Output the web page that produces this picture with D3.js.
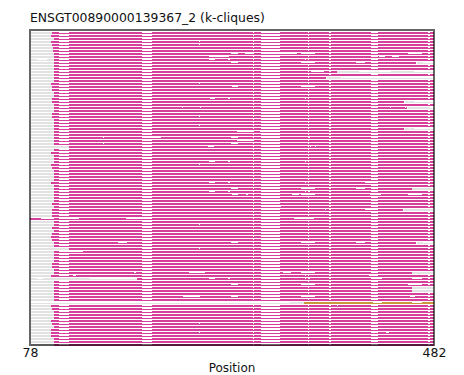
<!DOCTYPE html>
<html><head><meta charset="utf-8">
<script src="https://cdn.jsdelivr.net/npm/d3@7/dist/d3.min.js"></script>
<style>html,body{margin:0;padding:0;background:#fff}svg{display:block}text{font-family:"DejaVu Sans";fill:#111}</style>
</head><body><div id="c"></div>
<script>
const titleText = "ENSGT00890000139367_2 (k-cliques)";
const xLabel = "Position";
const tickValues = [78, 482];
const rowCount = 105;
const defaultStart = 102;
const commonGaps = [[107,117],[190,200],[301,302],[309,328],[356,357],[377,379],[419,426],[476,478]];
const rowStartOverrides = [[0,100],[1,99],[3,99],[4,100],[5,101],[6,101],[17,99],[18,100],[19,100],[22,100],[23,100],[27,100],[28,100],[38,117],[40,99],[44,99],[45,100],[50,99],[57,100],[59,100],[60,100],[61,100],[62,78],[65,100],[67,100],[68,99],[69,100],[72,117],[77,100],[78,100],[81,99],[82,185],[90,352],[91,99],[92,100],[96,99],[97,100],[99,99],[100,99],[101,99]];
const rowEndOverrides = [[10,464],[13,385],[15,374],[23,452],[25,455],[32,452],[52,460],[59,451],[70,464],[80,460],[85,460],[86,460]];
const extraGaps = [
[3,247,248],[4,247,248],
[7,279,286],[7,293,301],[7,328,345],[7,349,363],[7,456,470],
[8,257,277],[8,427,433],[8,440,447],
[9,85,95],[9,257,263],[9,276,278],[9,353,354],[9,423,424],
[10,279,286],[10,349,363],[10,404,413],[10,420,424],
[13,359,372],[17,247,248],[18,280,286],[18,349,363],
[22,258,263],[22,276,278],[22,353,354],[22,422,423],
[25,230,231],[25,248,249],[25,438,439],[25,453,454],
[28,247,248],[31,247,248],
[33,285,301],[33,308,309],
[35,151,152],[35,200,209],[35,279,286],[35,357,358],
[36,285,301],[37,151,152],[37,279,286],
[38,256,262],[38,358,359],[38,363,364],
[43,257,263],[43,276,278],[43,353,354],[43,423,426],[44,247,248],
[50,257,263],[50,276,278],[50,353,354],[50,413,419],
[52,279,286],[52,349,363],[52,404,413],[52,420,424],
[53,257,263],[53,276,278],[53,353,354],[53,357,358],
[54,280,286],[54,294,296],[54,340,347],[54,349,363],[54,418,429],[54,456,470],
[58,328,329],[59,373,374],[59,413,419],
[62,89,102],[62,117,127],[62,174,190],[62,342,362],[64,247,248],
[70,166,175],[70,279,286],[70,349,363],[70,404,413],[70,420,424],
[72,247,248],[73,117,131],
[80,182,184],[80,237,253],[80,331,339],[80,349,363],
[81,121,124],[81,353,354],[81,417,424],
[82,85,91],[82,138,185],[82,257,263],[82,276,278],[82,353,354],[82,357,358],[82,421,430],[82,460,470],
[84,279,286],[84,349,363],[84,456,470],
[88,231,248],[88,279,286],[88,349,363],[88,458,463],
[90,421,430],[90,460,470],[91,385,386],[97,247,248],[100,247,248],[100,434,437]
];
const grayTails = [
[10,465,471,0],[10,471,482,1],
[13,385,407,0],[13,385,482,1],[13,439,462,0],
[15,375,389,0],[15,375,482,1],
[23,453,457,0],[23,458,462,0],[23,453,482,1],
[25,456,478,0],[25,456,482,1],
[32,453,457,0],[32,458,462,0],[32,453,482,1],
[52,460,480,0],[52,460,482,1],[59,452,482,0],
[70,465,471,0],[70,465,482,1],
[80,460,482,0],[85,460,482,0],[86,460,482,0]
];
const thickLead = [[90,338,352]];
const solidRows = [90];
const orangeRows = [90];
const palette = {pink:"#d6409b", orange:"#c9973c", gray:"#e2e2e2"};

const W=464,H=375;
const x=d3.scaleLinear().domain([78,482]).range([30,434]);
const y=d3.scaleLinear().domain([0,rowCount]).range([32,347]);
const svg=d3.select("#c").append("svg").attr("width",W).attr("height",H);
const startOf=new Map(rowStartOverrides), endOf=new Map(rowEndOverrides);
const rowsIdx=d3.range(rowCount);

function subtract(segs,gaps){
  let out=segs;
  gaps.forEach(([a,b])=>{
    const n=[];
    out.forEach(([s,e])=>{
      if(b<=s||a>=e){n.push([s,e]);return;}
      if(a>s)n.push([s,a]);
      if(b<e)n.push([b,e]);
    });
    out=n;
  });
  return out;
}
const marks=[];
rowsIdx.forEach(r=>{
  const st=startOf.has(r)?startOf.get(r):defaultStart;
  const en=endOf.has(r)?endOf.get(r):482;
  const own=extraGaps.filter(g=>g[0]===r).map(g=>[g[1],g[2]]);
  const c=orangeRows.includes(r)?palette.orange:palette.pink;
  if(st>79){
    marks.push({r,s:[79,st],thin:true,c:palette.gray});
    if(r!==90) subtract([[79,st]],own).forEach(s=>marks.push({r,s,thin:false,c:palette.gray}));
  }
  marks.push({r,s:[st,en],thin:true,c});
  const gaps=(solidRows.includes(r)?[]:commonGaps).concat(own);
  subtract([[st,en]],gaps).forEach(s=>marks.push({r,s,thin:false,c}));
});
grayTails.forEach(([r,a,b,t])=>marks.push({r,s:[a,b],thin:!!t,c:palette.gray}));
thickLead.forEach(([r,a,b])=>marks.push({r,s:[a,b],thin:false,c:palette.gray}));

svg.append("g").selectAll("rect").data(marks).join("rect")
  .attr("x",d=>x(d.s[0])).attr("width",d=>x(d.s[1])-x(d.s[0]))
  .attr("y",d=>y(d.r)+(d.thin?1:0)).attr("height",d=>d.thin?1:2)
  .attr("fill",d=>d.c);

svg.append("rect").attr("x",30).attr("y",30).attr("width",404).attr("height",315)
  .attr("fill","none").attr("stroke","#000").attr("stroke-opacity",0.6).attr("stroke-width",2);

const ax=svg.append("g").attr("transform","translate(0,345)")
  .call(d3.axisBottom(x).tickValues(tickValues).tickSize(0).tickPadding(3).tickFormat(d3.format("d")));
ax.select(".domain").remove();
ax.selectAll("text").style("font-size","12.5px").attr("fill","#111").attr("font-family","DejaVu Sans");

svg.append("text").attr("x",30).attr("y",22).attr("font-size",12.4).text(titleText);
svg.append("text").attr("x",232).attr("y",372).attr("text-anchor","middle").attr("font-size",12).text(xLabel);
</script></body></html>
